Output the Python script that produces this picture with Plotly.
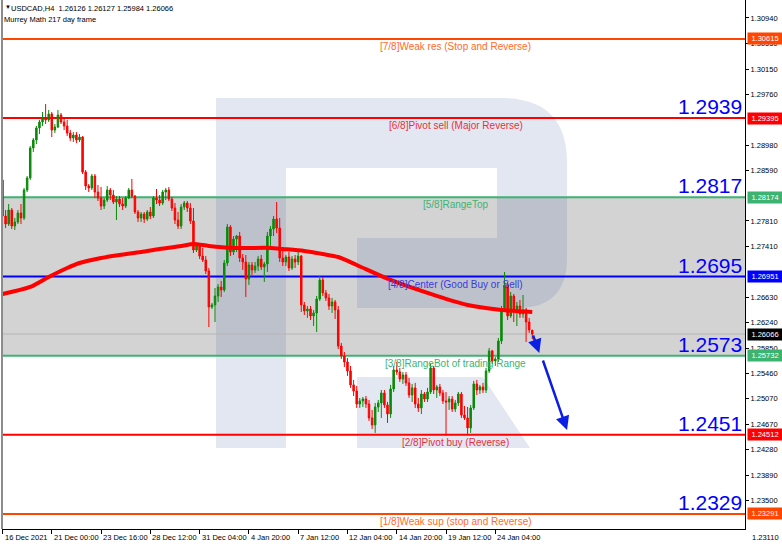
import plotly.graph_objects as go

# ---------------- data ----------------
bars = list(range(173))
opens = [1.28441, 1.27885, 1.27762, 1.27978, 1.27731, 1.27793, 1.27932, 1.27855, 1.28286, 1.28472,
         1.28934, 1.29057, 1.29243, 1.29335, 1.29397, 1.29366, 1.29458, 1.29211, 1.29258, 1.29443,
         1.29335, 1.29273, 1.29165, 1.29088, 1.29134, 1.29057, 1.29103, 1.28564, 1.28348, 1.28318,
         1.28502, 1.28255, 1.28163, 1.28039, 1.28132, 1.28286, 1.28209, 1.28101, 1.28147, 1.28070,
         1.28039, 1.28163, 1.28286, 1.28193, 1.27947, 1.27855, 1.27916, 1.27839, 1.27947, 1.27885,
         1.28163, 1.28132, 1.28086, 1.28255, 1.28286, 1.28147, 1.28009, 1.27824, 1.27731, 1.28024,
         1.28086, 1.28009, 1.27809, 1.27361, 1.27439, 1.27268, 1.27207, 1.27038, 1.26483, 1.26514,
         1.26652, 1.26791, 1.26745, 1.27161, 1.27716, 1.27330, 1.27531, 1.27577, 1.27238, 1.27176,
         1.26914, 1.27130, 1.27053, 1.27114, 1.27222, 1.27099, 1.27145, 1.27577, 1.27685, 1.27839,
         1.27701, 1.27238, 1.27176, 1.27253, 1.27084, 1.27222, 1.27176, 1.27268, 1.26514, 1.26422,
         1.26452, 1.26344, 1.26391, 1.26606, 1.26899, 1.26699, 1.26622, 1.26498, 1.26560, 1.26437,
         1.25881, 1.25727, 1.25635, 1.25497, 1.25281, 1.25188, 1.24987, 1.25034, 1.25064, 1.24987,
         1.24772, 1.24664, 1.24941, 1.25003, 1.25157, 1.24972, 1.24833, 1.25219, 1.25512, 1.25481,
         1.25373, 1.25435, 1.25312, 1.25126, 1.25235, 1.24987, 1.24926, 1.25141, 1.25064, 1.25172,
         1.25543, 1.25203, 1.25250, 1.25157, 1.25034, 1.25018, 1.25064, 1.24910, 1.25003, 1.25141,
         1.24818, 1.24772, 1.24618, 1.24926, 1.25296, 1.25203, 1.25250, 1.25203, 1.25497, 1.25805,
         1.25651, 1.25681, 1.25959, 1.26452, 1.26822, 1.26344, 1.26652, 1.26406, 1.26498, 1.26375,
         1.26437, 1.26251, 1.26126]
highs = [1.28502, 1.27978, 1.28070, 1.28009, 1.27855, 1.27978, 1.28070, 1.28318, 1.28502, 1.28964,
         1.29088, 1.29273, 1.29366, 1.29489, 1.29612, 1.29520, 1.29489, 1.29304, 1.29520, 1.29474,
         1.29397, 1.29366, 1.29211, 1.29180, 1.29180, 1.29149, 1.29118, 1.28595, 1.28379, 1.28533,
         1.28533, 1.28364, 1.28333, 1.28163, 1.28348, 1.28318, 1.28286, 1.28193, 1.28193, 1.28163,
         1.28193, 1.28318, 1.28456, 1.28209, 1.27978, 1.27947, 1.27947, 1.27978, 1.28024, 1.28193,
         1.28302, 1.28209, 1.28286, 1.28318, 1.28333, 1.28178, 1.28086, 1.27947, 1.28070, 1.28117,
         1.28117, 1.28086, 1.28009, 1.27470, 1.27470, 1.27393, 1.27268, 1.27084, 1.26545, 1.26776,
         1.26837, 1.26884, 1.27207, 1.27762, 1.27747, 1.27577, 1.27593, 1.27639, 1.27299, 1.27284,
         1.27176, 1.27176, 1.27176, 1.27268, 1.27284, 1.27176, 1.27639, 1.27731, 1.27885, 1.28101,
         1.27855, 1.27361, 1.27284, 1.27330, 1.27268, 1.27284, 1.27330, 1.27284, 1.26560, 1.26498,
         1.26498, 1.26437, 1.26652, 1.26960, 1.26945, 1.26745, 1.26683, 1.26622, 1.26591, 1.26498,
         1.25928, 1.25789, 1.25697, 1.25573, 1.25358, 1.25265, 1.25080, 1.25095, 1.25110, 1.25049,
         1.24895, 1.25003, 1.25049, 1.25203, 1.25203, 1.25018, 1.25281, 1.25573, 1.25635, 1.25543,
         1.25481, 1.25481, 1.25389, 1.25296, 1.25312, 1.25080, 1.25203, 1.25172, 1.25235, 1.25604,
         1.25573, 1.25281, 1.25296, 1.25203, 1.25172, 1.25110, 1.25110, 1.25049, 1.25172, 1.25172,
         1.24956, 1.24941, 1.24972, 1.25343, 1.25358, 1.25281, 1.25312, 1.25543, 1.25851, 1.25820,
         1.25712, 1.26005, 1.26498, 1.27022, 1.26868, 1.26714, 1.26683, 1.26560, 1.26591, 1.26668,
         1.26468, 1.26314, 1.26127]
lows = [1.27793, 1.27701, 1.27731, 1.27685, 1.27670, 1.27762, 1.27762, 1.27824, 1.28255, 1.28441,
        1.28872, 1.28995, 1.29149, 1.29273, 1.29304, 1.29335, 1.29103, 1.29165, 1.29243, 1.29304,
        1.29211, 1.29118, 1.29042, 1.29026, 1.29011, 1.29026, 1.28533, 1.28286, 1.28255, 1.28286,
        1.28163, 1.28117, 1.27978, 1.27993, 1.28101, 1.28132, 1.28070, 1.27824, 1.28024, 1.27978,
        1.28009, 1.28147, 1.28163, 1.27916, 1.27793, 1.27793, 1.27778, 1.27809, 1.27839, 1.27855,
        1.28070, 1.28039, 1.28055, 1.28132, 1.28117, 1.27963, 1.27762, 1.27685, 1.27685, 1.27978,
        1.27947, 1.27762, 1.27315, 1.27330, 1.27222, 1.27176, 1.26991, 1.26174, 1.26452, 1.26251,
        1.26560, 1.26637, 1.26714, 1.27114, 1.27268, 1.27284, 1.27330, 1.27176, 1.27053, 1.26637,
        1.26822, 1.26976, 1.27007, 1.27038, 1.27053, 1.26868, 1.27022, 1.27423, 1.27577, 1.27624,
        1.27176, 1.27114, 1.27114, 1.27038, 1.27053, 1.27084, 1.27130, 1.26406, 1.26360, 1.26314,
        1.26282, 1.26189, 1.26097, 1.26576, 1.26652, 1.26576, 1.26437, 1.26391, 1.26298, 1.25835,
        1.25681, 1.25558, 1.25420, 1.25235, 1.25110, 1.24926, 1.24926, 1.24941, 1.24926, 1.24726,
        1.24602, 1.24541, 1.24864, 1.24772, 1.24926, 1.24695, 1.24772, 1.25172, 1.25435, 1.25327,
        1.25296, 1.25265, 1.25080, 1.25018, 1.24926, 1.24864, 1.24833, 1.25018, 1.25018, 1.25141,
        1.25141, 1.25080, 1.25110, 1.24987, 1.24495, 1.24895, 1.24864, 1.24864, 1.24956, 1.24772,
        1.24741, 1.24525, 1.24541, 1.24895, 1.25126, 1.25141, 1.25157, 1.25157, 1.25466, 1.25604,
        1.25573, 1.25635, 1.25912, 1.26422, 1.26282, 1.26314, 1.26251, 1.26189, 1.26314, 1.26314,
        1.25943, 1.26082, 1.25984]
closes = [1.27885, 1.27762, 1.27978, 1.27731, 1.27793, 1.27932, 1.27855, 1.28286, 1.28472, 1.28934,
          1.29057, 1.29243, 1.29335, 1.29397, 1.29366, 1.29458, 1.29211, 1.29258, 1.29443, 1.29335,
          1.29273, 1.29165, 1.29088, 1.29134, 1.29057, 1.29103, 1.28564, 1.28348, 1.28318, 1.28502,
          1.28255, 1.28163, 1.28039, 1.28132, 1.28286, 1.28209, 1.28101, 1.28147, 1.28070, 1.28039,
          1.28163, 1.28286, 1.28193, 1.27947, 1.27855, 1.27916, 1.27839, 1.27947, 1.27885, 1.28163,
          1.28132, 1.28086, 1.28255, 1.28286, 1.28147, 1.28009, 1.27824, 1.27731, 1.28024, 1.28086,
          1.28009, 1.27809, 1.27361, 1.27439, 1.27268, 1.27207, 1.27038, 1.26483, 1.26514, 1.26652,
          1.26791, 1.26745, 1.27161, 1.27716, 1.27330, 1.27531, 1.27577, 1.27238, 1.27176, 1.26914,
          1.27130, 1.27053, 1.27114, 1.27222, 1.27099, 1.27145, 1.27577, 1.27685, 1.27839, 1.27701,
          1.27238, 1.27176, 1.27253, 1.27084, 1.27222, 1.27176, 1.27268, 1.26514, 1.26422, 1.26452,
          1.26344, 1.26391, 1.26606, 1.26899, 1.26699, 1.26622, 1.26498, 1.26560, 1.26437, 1.25881,
          1.25727, 1.25635, 1.25497, 1.25281, 1.25188, 1.24987, 1.25034, 1.25064, 1.24987, 1.24772,
          1.24664, 1.24941, 1.25003, 1.25157, 1.24972, 1.24833, 1.25219, 1.25512, 1.25481, 1.25373,
          1.25435, 1.25312, 1.25126, 1.25235, 1.24987, 1.24926, 1.25141, 1.25064, 1.25172, 1.25543,
          1.25203, 1.25250, 1.25157, 1.25034, 1.25018, 1.25064, 1.24910, 1.25003, 1.25141, 1.24818,
          1.24772, 1.24618, 1.24926, 1.25296, 1.25203, 1.25250, 1.25203, 1.25497, 1.25805, 1.25651,
          1.25681, 1.25959, 1.26452, 1.26822, 1.26344, 1.26652, 1.26406, 1.26498, 1.26375, 1.26437,
          1.26251, 1.26128, 1.26066]

ma_bars = [0, 9, 15, 21, 25, 32, 38, 45, 51, 58, 62, 67, 75, 87, 91, 98, 104, 109, 115, 126, 140, 151, 162, 172]
ma_vals = [1.26683, 1.26791, 1.26945, 1.27084, 1.27161, 1.27238, 1.27284, 1.27330, 1.27377, 1.27423,
           1.27454, 1.27423, 1.27393, 1.27393, 1.27377, 1.27346, 1.27299, 1.27253, 1.27130, 1.26899,
           1.26668, 1.26514, 1.26437, 1.26406]

time_tick_bars = [0, 16, 32, 48, 64, 80, 96, 112, 128, 144, 160]
time_tick_labels = ["16 Dec 2021", "21 Dec 00:00", "23 Dec 16:00", "28 Dec 12:00", "31 Dec 04:00",
                    "4 Jan 20:00", "7 Jan 12:00", "12 Jan 04:00", "14 Jan 20:00", "19 Jan 12:00",
                    "24 Jan 04:00"]
price_ticks = [1.30940, 1.30550, 1.30150, 1.29760, 1.28980, 1.28590, 1.27810,
               1.27410, 1.26630, 1.26240, 1.25850, 1.25460, 1.25070, 1.24670, 1.24280,
               1.23890, 1.23500]
price_tick_labels = ["%.5f" % v for v in price_ticks]
bottom_price_label = "1.23110"

level_prices = [1.30615, 1.29395, 1.28174, 1.26951, 1.25732, 1.24512, 1.23291]
level_names = ["[7/8]Weak res (Stop and Reverse)", "[6/8]Pivot sell (Major Reverse)", "[5/8]RangeTop",
               "[4/8]Center (Good Buy or Sell)", "[3/8]RangeBot of trading Range",
               "[2/8]Pivot buy (Reverse)", "[1/8]Weak sup (stop and Reverse)"]
level_big_labels = ["", "1.2939", "1.2817", "1.2695", "1.2573", "1.2451", "1.2329"]
range_top, range_bot = 1.28174, 1.25732
current_price = 1.26066

arrow_start_bars = [172.1, 175.3]
arrow_start_prices = [1.26066, 1.25681]
arrow_end_bars = [174.3, 183.3]
arrow_end_prices = [1.25773, 1.24586]

title_line1 = "USDCAD,H4  1.26126 1.26127 1.25984 1.26066"
title_line2 = "Murrey Math 217 day frame"

# ---------------- styles ----------------
W, H = 782, 546
PL, PR, PT, PB = 2, 745, 0, 529   # plot area in pixels
FONT = "Liberation Sans, Arial, sans-serif"
line_colors = ['#ff4500', '#ff0000', '#3cb371', '#0000ff', '#3cb371', '#ff0000', '#ff4500']
text_colors = ['#ff6a2a', '#e8303a', '#3cb371', '#3a3ae0', '#3cb371', '#e8303a', '#ff6a2a']
box_colors = ['#ff4500', '#ff0000', '#3cb371', '#0000ff', '#3cb371', '#ff0000', '#ff4500']


def px(x):
    return (x - PL) / (PR - PL)


def py(y):
    return (PB - y) / (PB - PT)


fig = go.Figure()
fig.add_trace(go.Candlestick(
    x=bars, open=opens, high=highs, low=lows, close=closes,
    increasing=dict(line=dict(color='#0a8a0a', width=1), fillcolor='#0a8a0a'),
    decreasing=dict(line=dict(color='#ff0000', width=1), fillcolor='#ff0000'),
    whiskerwidth=0, showlegend=False, hoverinfo='skip'))
fig.add_trace(go.Scatter(
    x=ma_bars, y=ma_vals, mode='lines', line=dict(color='#ff0000', width=4, shape='spline', smoothing=0.8),
    showlegend=False, hoverinfo='skip'))

shapes = []
shapes.append(dict(type='rect', xref='paper', yref='y', x0=0, x1=1, y0=range_bot, y1=range_top,
                   fillcolor='#d3d3d3', line=dict(width=0), layer='below'))


def P(x, y):
    return "%.5f,%.5f" % (px(x), py(y))


r_outer = ("M " + P(216, 448) + " L " + P(216, 98) + " L " + P(502, 98) + " Q " + P(567, 98) + " " + P(567, 163) +
           " L " + P(567, 258) + " Q " + P(567, 308) + " " + P(517, 308) + " L " + P(357, 308) + " L " + P(357, 238) +
           " L " + P(497, 238) + " L " + P(497, 168) + " L " + P(286, 168) + " L " + P(286, 448) + " Z")
r_leg = "M " + P(357, 377) + " L " + P(483, 377) + " L " + P(530, 448) + " L " + P(357, 448) + " Z"
for pth in (r_outer, r_leg):
    shapes.append(dict(type='path', xref='paper', yref='paper', path=pth,
                       fillcolor='rgba(60,85,160,0.14)', line=dict(width=0), layer='below'))

shapes.append(dict(type='line', xref='paper', yref='y', x0=0, x1=1, y0=current_price, y1=current_price,
                   line=dict(color='#b4b4b4', width=1), layer='below'))
for lp, lc in zip(level_prices, line_colors):
    shapes.append(dict(type='line', xref='paper', yref='y', x0=0, x1=1, y0=lp, y1=lp,
                       line=dict(color=lc, width=2), layer='below'))
shapes.append(dict(type='line', xref='paper', yref='paper', x0=0, x1=0, y0=0, y1=1,
                   line=dict(color='#8c8c8c', width=2), layer='above'))

ann = []
# title
ann.append(dict(xref='paper', yref='paper', x=px(4), y=py(7), xanchor='left', yanchor='middle', text='▼',
                showarrow=False, font=dict(family=FONT, size=6, color='black'), borderpad=0))
ann.append(dict(xref='paper', yref='paper', x=px(10), y=py(8), xanchor='left', yanchor='middle', text=title_line1,
                showarrow=False, font=dict(family=FONT, size=7.5, color='black'), borderpad=0))
ann.append(dict(xref='paper', yref='paper', x=px(3), y=py(19), xanchor='left', yanchor='middle', text=title_line2,
                showarrow=False, font=dict(family=FONT, size=7.5, color='black'), borderpad=0))
# level texts
for lp, name, tc in zip(level_prices, level_names, text_colors):
    ann.append(dict(xref='paper', yref='y', x=px(455.5), y=lp, yshift=-7.5, xanchor='center', yanchor='middle',
                    text=name, showarrow=False, font=dict(family=FONT, size=10, color=tc), borderpad=0))
# big numbers
for lp, big in zip(level_prices, level_big_labels):
    if big:
        ann.append(dict(xref='paper', yref='y', x=px(743), y=lp, yshift=11.5, xanchor='right', yanchor='middle',
                        text=big, showarrow=False, font=dict(family=FONT, size=21, color='#0000ff'), borderpad=0))
# price boxes
for lp, bc in zip(level_prices, box_colors):
    ann.append(dict(xref='paper', yref='y', x=px(747), y=lp, xanchor='left', yanchor='middle',
                    text="%.5f" % lp, showarrow=False, bgcolor=bc, width=34, height=11, borderpad=0,
                    font=dict(family=FONT, size=7.5, color='white')))
ann.append(dict(xref='paper', yref='y', x=px(747), y=current_price, xanchor='left', yanchor='middle',
                text="%.5f" % current_price, showarrow=False, bgcolor='black', width=34, height=11, borderpad=0,
                font=dict(family=FONT, size=7.5, color='white')))
ann.append(dict(xref='paper', yref='paper', x=px(751), y=py(537), xanchor='left', yanchor='middle',
                text=bottom_price_label, showarrow=False, borderpad=0,
                font=dict(family=FONT, size=7.5, color='black')))
# time labels
for tb, tl in zip(time_tick_bars, time_tick_labels):
    ann.append(dict(xref='x', yref='paper', x=tb, y=0, yshift=-3, xshift=1, xanchor='left', yanchor='top',
                    text=tl, showarrow=False, borderpad=0, font=dict(family=FONT, size=7.5, color='black')))
# forecast arrows
for sb, sp, eb, ep in zip(arrow_start_bars, arrow_start_prices, arrow_end_bars, arrow_end_prices):
    ann.append(dict(xref='x', yref='y', axref='x', ayref='y', x=eb, y=ep, ax=sb, ay=sp, text='',
                    showarrow=True, arrowhead=2, arrowsize=1.1, arrowwidth=2.5, arrowcolor='#0a1ee6'))

bar_px = 3.08
x0_px = 2.5
fig.update_layout(
    width=W, height=H, margin=dict(l=PL, r=W - PR, t=PT, b=H - PB),
    paper_bgcolor='white', plot_bgcolor='white', showlegend=False,
    shapes=shapes, annotations=ann,
    xaxis=dict(range=[(PL - x0_px) / bar_px, (PR - x0_px) / bar_px], tickvals=time_tick_bars,
               showticklabels=False, ticks='outside', ticklen=4, tickcolor='black',
               showgrid=False, zeroline=False, showline=True, linecolor='black', linewidth=1,
               rangeslider=dict(visible=False), fixedrange=True),
    yaxis=dict(side='right', range=[1.31216 - PB * 0.00015419, 1.31216], tickvals=price_ticks,
               ticktext=price_tick_labels, ticks='outside', ticklen=3, tickcolor='black',
               tickfont=dict(family=FONT, size=7.5, color='black'),
               showgrid=False, zeroline=False, showline=True, linecolor='black', linewidth=1, fixedrange=True),
)
fig.write_html("out.html", config={'displayModeBar': False},
               post_script="document.body.style.margin='0';document.body.style.padding='0';")
